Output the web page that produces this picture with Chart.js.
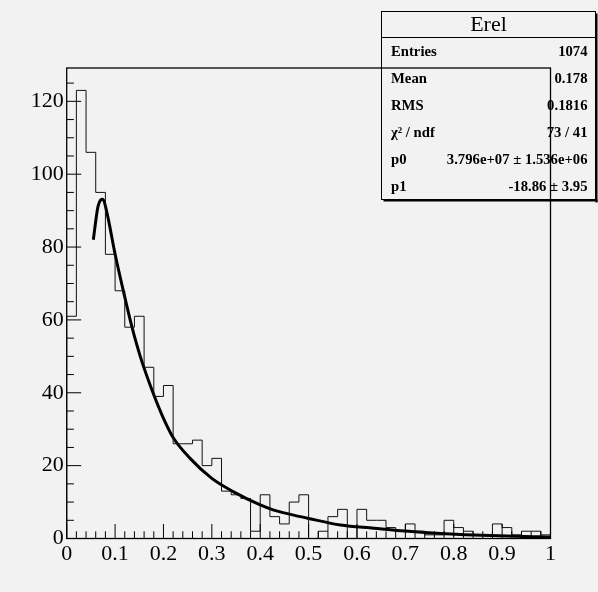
<!DOCTYPE html>
<html>
<head>
<meta charset="utf-8">
<script src="https://cdn.jsdelivr.net/npm/chart.js@4/dist/chart.umd.min.js"></script>
<style>
    html, body { margin: 0; padding: 0; background: #f2f2f2; }
    #wrap { width: 598px; height: 592px; }
</style>
</head>
<body>
<div id="wrap"><canvas id="chart" width="598" height="592"></canvas></div>
<script>
// histogram "Erel": 50 bins between xMin and xMax, counts
const xMin = 0;
const xMax = 1;
const binCounts = [
    61, 123, 106, 95, 78, 68, 58, 61, 47, 39,
    42, 26, 26, 27, 20, 22, 13, 12, 11, 2,
    12, 6, 4, 10, 12, 0, 2, 6, 8, 0,
    8, 5, 5, 3, 2, 4, 2, 1, 1, 5,
    3, 2, 1, 1, 4, 3, 1, 2, 2, 1
];

// fitted curve
const fitX = [0.055, 0.065, 0.075, 0.083, 0.1, 0.117, 0.135, 0.152, 0.179, 0.2,
              0.221, 0.255, 0.3, 0.345, 0.4, 0.428, 0.483, 0.5, 0.566, 0.635,
              0.69, 0.773, 0.876, 0.98, 1.0];
const fitY = [82, 91.3, 93.1, 89.5, 78.1, 68, 58, 50, 39.8, 33,
              27.5, 22, 16.5, 12.8, 9.2, 7.8, 6, 5.5, 3.7, 2.8,
              2.1, 1.4, 0.8, 0.45, 0.4];

// axis
const yMax = 129.15;
const xTickStep = 0.1;
const yTickStep = 20;

// stats box
const statTitle = "Erel";
const statLabels = ["Entries", "Mean", "RMS", "χ² / ndf", "p0", "p1"];
const statValues = ["1074", "0.178", "0.1816", "73 / 41", "3.796e+07 ± 1.536e+06", "-18.86 ± 3.95"];

const serif = "'Liberation Serif', 'DejaVu Serif', serif";

// build the step outline of the histogram
function histOutline() {
    const width = (xMax - xMin) / binCounts.length;
    const pts = [{ x: xMin, y: 0 }];
    binCounts.forEach((c, i) => pts.push({ x: xMin + i * width, y: c }));
    pts.push({ x: xMax, y: binCounts[binCounts.length - 1] });
    pts.push({ x: xMax, y: 0 });
    return pts;
}

function line(ctx, x1, y1, x2, y2) {
    ctx.beginPath();
    ctx.moveTo(x1, y1);
    ctx.lineTo(x2, y2);
    ctx.stroke();
}

// frame, inward ticks and the stats pave, drawn the ROOT way
const rootLook = {
    id: 'rootLook',
    afterDraw(chart) {
        const ctx = chart.ctx;
        const area = chart.chartArea;
        const xs = chart.scales.x;
        const ys = chart.scales.y;
        ctx.save();
        ctx.strokeStyle = '#000';
        ctx.fillStyle = '#000';

        ctx.lineWidth = 1.3;
        ctx.strokeRect(area.left, area.top, area.right - area.left, area.bottom - area.top);

        ctx.lineWidth = 1;
        const nx = Math.round((xMax - xMin) / 0.02);
        for (let i = 0; i <= nx; i++) {
            const px = xs.getPixelForValue(xMin + i * 0.02);
            const len = i % 5 === 0 ? 14.5 : 7.2;
            line(ctx, px, area.bottom, px, area.bottom - len);
        }
        for (let v = 0; v <= yMax; v += 5) {
            const py = ys.getPixelForValue(v);
            const len = v % yTickStep === 0 ? 14.5 : 7.2;
            line(ctx, area.left, py, area.left + len, py);
        }

        // stats box (not filled, the frame shows through)
        const bx = 381.5, by = 11.5, bw = 214, bh = 188;
        ctx.lineWidth = 1;
        ctx.strokeRect(bx, by, bw, bh);
        ctx.fillRect(bx + bw, by + 2, 2, bh + 1);
        ctx.fillRect(bx + 2, by + bh, bw, 2);
        line(ctx, bx, 37.5, bx + bw, 37.5);

        ctx.textBaseline = 'middle';
        ctx.textAlign = 'center';
        ctx.font = "22px " + serif;
        ctx.fillText(statTitle, bx + bw / 2, 25);

        ctx.font = "bold 14.7px " + serif;
        statLabels.forEach((lab, i) => {
            const y = 52.5 + i * 27;
            ctx.textAlign = 'left';
            ctx.fillText(lab, 391, y);
            ctx.textAlign = 'right';
            ctx.fillText(statValues[i], 587.5, y);
        });
        ctx.restore();
    }
};

const ctx = document.getElementById('chart');

new Chart(ctx, {
    type: 'line',
    data: {
        datasets: [{
            label: 'Erel',
            data: histOutline(),
            stepped: true,
            borderColor: '#111',
            borderWidth: 1,
            pointRadius: 0,
            fill: false
        }, {
            label: 'fit',
            data: fitX.map((x, i) => ({ x: x, y: fitY[i] })),
            borderColor: '#000',
            borderWidth: 3,
            cubicInterpolationMode: 'monotone',
            pointRadius: 0,
            fill: false
        }]
    },
    options: {
        responsive: false,
        animation: false,
        layout: { padding: { left: 0, top: 68, right: 47.5, bottom: 0 } },
        plugins: {
            legend: { display: false },
            tooltip: { enabled: false }
        },
        scales: {
            x: {
                type: 'linear',
                min: xMin,
                max: xMax,
                afterFit: s => { s.height = 53.5; },
                grid: { display: false, drawTicks: false },
                border: { display: false },
                ticks: {
                    stepSize: xTickStep,
                    padding: 3,
                    maxRotation: 0,
                    autoSkip: false,
                    color: '#000',
                    font: { family: serif, size: 22 },
                    callback: v => String(Number(v.toFixed(2)))
                }
            },
            y: {
                type: 'linear',
                min: 0,
                max: yMax,
                afterFit: s => { s.width = 66.7; },
                afterBuildTicks: s => { s.ticks = s.ticks.filter(t => t.value % yTickStep === 0); },
                grid: { display: false, drawTicks: false },
                border: { display: false },
                ticks: {
                    stepSize: yTickStep,
                    padding: 3,
                    color: '#000',
                    font: { family: serif, size: 22 }
                }
            }
        }
    },
    plugins: [rootLook]
});
</script>
</body>
</html>
